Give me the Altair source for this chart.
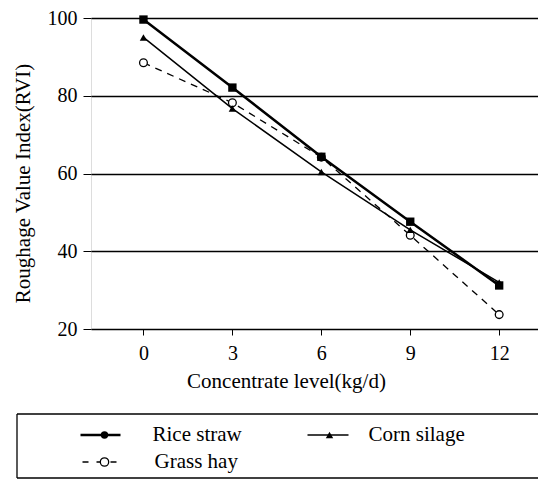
import altair as alt
import pandas as pd

concentrate = [0, 3, 6, 9, 12]
rice_straw = [99.6, 82.1, 64.3, 47.6, 31.2]
corn_silage = [95.0, 76.7, 60.4, 45.5, 32.0]
grass_hay = [88.5, 78.2, 64.2, 44.1, 23.7]
y_ticks = [20, 40, 60, 80, 100]
legend_names = ["Rice straw", "Corn silage", "Grass hay"]

FONT = "Liberation Serif"

def frame(vals):
    return pd.DataFrame({"x": concentrate, "y": vals})

xs = alt.Scale(domain=[-1.77, 13.31], nice=False, zero=False)
ys = alt.Scale(domain=[20, 100], nice=False, zero=False)

x_axis = alt.Axis(values=concentrate, title="Concentrate level(kg/d)", grid=False,
                  labelFont=FONT, labelFontSize=20, labelColor="black", labelPadding=8,
                  tickSize=6, tickColor="black", domain=False,
                  titleFont=FONT, titleFontSize=21, titleFontWeight="normal", titleColor="black",
                  titleX=195, titleY=58, titleBaseline="alphabetic", titleAnchor="start", titleAlign="center")
y_axis = alt.Axis(values=y_ticks, title="Roughage Value Index(RVI)", grid=True, gridColor="black",
                  gridWidth=1.3, gridOpacity=1,
                  labelFont=FONT, labelFontSize=20, labelColor="black", labelPadding=6,
                  tickSize=8, tickColor="black", domain=False,
                  titleFont=FONT, titleFontSize=21, titleFontWeight="normal", titleColor="black",
                  titleX=-68, titleY=165, titleBaseline="middle", titleAnchor="start", titleAlign="center")

X = alt.X("x:Q", scale=xs, axis=x_axis)
Y = alt.Y("y:Q", scale=ys, axis=y_axis)
Xn = alt.X("x:Q", scale=xs)
Yn = alt.Y("y:Q", scale=ys)

base_rice = alt.Chart(frame(rice_straw))
rice_line = base_rice.mark_line(color="black", strokeWidth=2.5).encode(x=X, y=Y)
rice_pts = base_rice.mark_point(shape="square", filled=True, color="black", size=70, opacity=1).encode(x=Xn, y=Yn)

base_corn = alt.Chart(frame(corn_silage))
corn_line = base_corn.mark_line(color="black", strokeWidth=1.5).encode(x=Xn, y=Yn)
corn_pts = base_corn.mark_point(shape="triangle-up", filled=True, color="black", size=55, opacity=1).encode(x=Xn, y=Yn)

base_grass = alt.Chart(frame(grass_hay))
grass_line = base_grass.mark_line(color="black", strokeWidth=1.3, strokeDash=[7, 6]).encode(x=Xn, y=Yn)
grass_pts = base_grass.mark_point(shape="circle", filled=False, fill="white", color="black",
                                  strokeWidth=1.3, size=60, opacity=1).encode(x=Xn, y=Yn)

one = pd.DataFrame({"k": [0]})

def lrule(x1, x2, y, **kw):
    return alt.Chart(one).mark_rule(color="black", **kw).encode(
        x=alt.value(x1), x2=alt.value(x2), y=alt.value(y))

def lvrule(x, y1, y2, **kw):
    return alt.Chart(one).mark_rule(color="black", **kw).encode(
        x=alt.value(x), y=alt.value(y1), y2=alt.value(y2))

def lpoint(x, y, **kw):
    return alt.Chart(one).mark_point(color="black", opacity=1, **kw).encode(
        x=alt.value(x), y=alt.value(y))

def ltext(x, y, t):
    return alt.Chart(one).mark_text(text=t, font=FONT, fontSize=21, align="left",
                                    baseline="middle", color="black").encode(
        x=alt.value(x), y=alt.value(y))

legend = [
    lrule(-74, 460, 396, strokeWidth=1.3),
    lrule(-74, 460, 460, strokeWidth=1.3),
    lvrule(-74, 396, 460, strokeWidth=1.3),
    lrule(-10.5, 29.5, 417, strokeWidth=2.5),
    lpoint(13.5, 417, shape="circle", filled=True, size=55),
    ltext(61.5, 417, legend_names[0]),
    lrule(216.5, 257.5, 417, strokeWidth=1.5),
    lpoint(238.5, 417, shape="triangle-up", filled=True, size=55),
    ltext(277.5, 417, legend_names[1]),
    lrule(-8.5, 29.5, 444, strokeWidth=1.3, strokeDash=[6, 8]),
    lpoint(13.5, 444, shape="circle", filled=False, fill="white", strokeWidth=1.3, size=70),
    ltext(63.5, 444, legend_names[2]),
]

chart = alt.layer(rice_line, corn_line, grass_line, grass_pts, corn_pts, rice_pts, *legend).properties(
    width=447, height=311,
    autosize=alt.AutoSizeParams(type="none"),
    padding={"left": 83, "top": 10, "right": 0, "bottom": 150},
).configure_view(stroke="black", strokeWidth=1.3).configure(background="white")

chart.save("out.html", embed_options={"renderer": "svg", "actions": False})
